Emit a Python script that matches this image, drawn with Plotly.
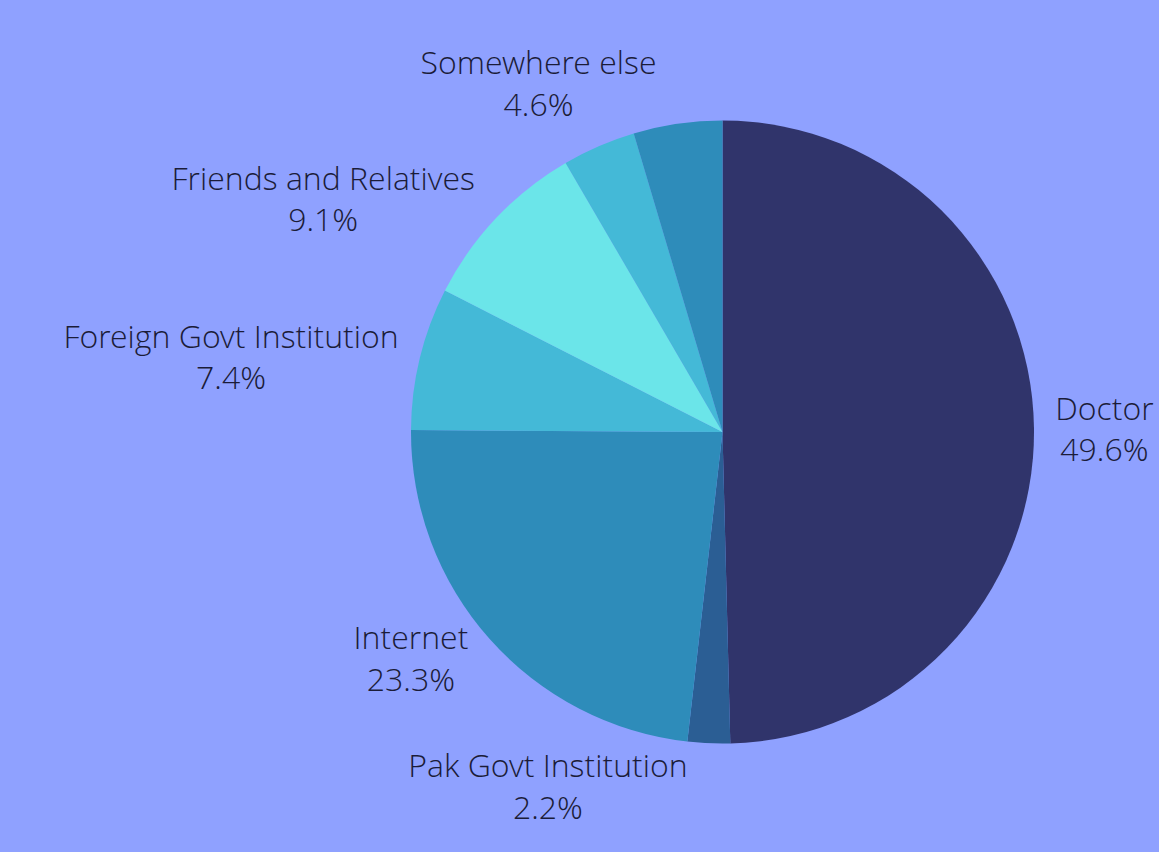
import plotly.graph_objects as go

labels = ["Doctor", "Pak Govt Institution", "Internet", "Foreign Govt Institution",
          "Friends and Relatives", "Other", "Somewhere else"]
values = [49.6, 2.2, 23.3, 7.4, 9.1, 3.8, 4.6]
colors = ["#30346b", "#2b5e94", "#2e8cba", "#44b9d7", "#6be5e9", "#44b9d7", "#2e8cba"]
templates = ["%{label}<br>%{percent:.1%}"] * 5 + [""] + ["%{label}<br>%{percent:.1%}"]

fig = go.Figure(go.Pie(
    labels=labels, values=values, sort=False, direction="clockwise", rotation=0,
    marker=dict(colors=colors, line=dict(width=0)),
    textposition="outside", texttemplate=templates,
    textfont=dict(family="Open Sans Light, Open Sans", size=32, color="#1b1c38", weight=300),
    showlegend=False, hoverinfo="label+percent",
))
fig.update_layout(
    width=1159, height=852,
    paper_bgcolor="#8fa1ff", plot_bgcolor="#8fa1ff",
    margin=dict(l=411, r=102, t=117, b=105),
)
fig.write_html("out.html", config={"displayModeBar": False},
               post_script="document.body.style.margin='0';")
